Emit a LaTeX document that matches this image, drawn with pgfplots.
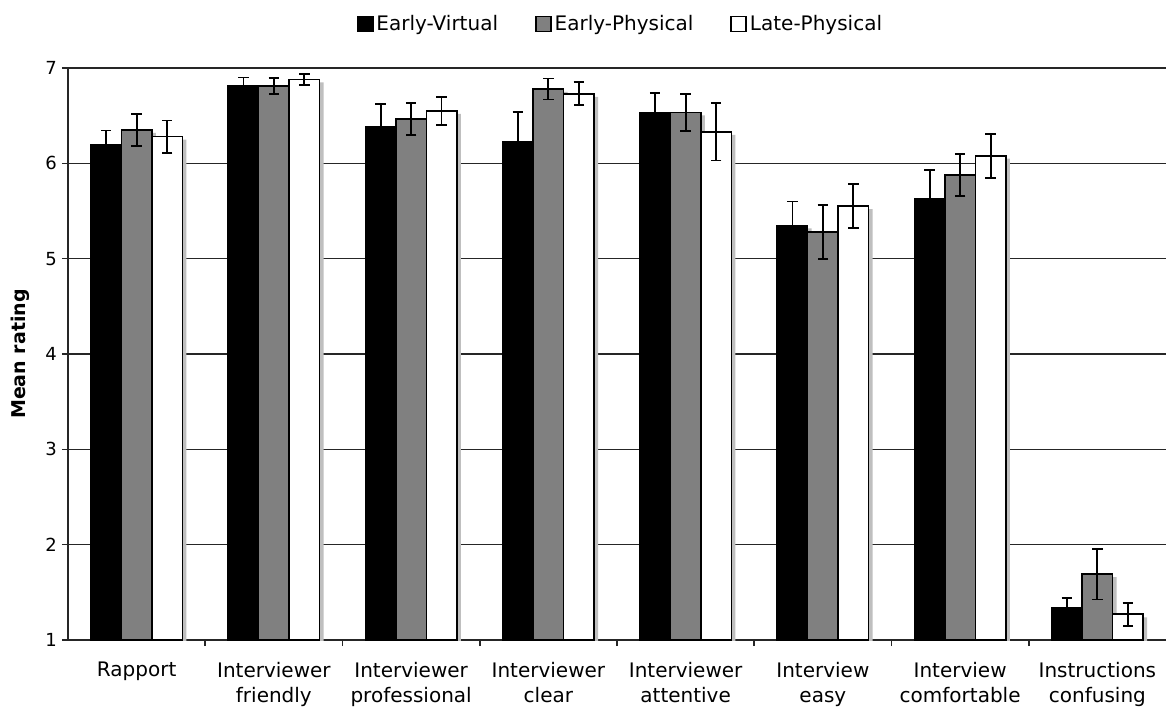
\documentclass[border=0pt]{standalone}
\usepackage{pgfplots}
\pgfplotsset{compat=1.18}
\usepackage{fontspec}
\setmainfont{DejaVu Sans}
\usetikzlibrary{shadows}

\tikzset{barshadow/.style={drop shadow={shadow xshift=2pt, shadow yshift=-1.5pt, fill=black!25, draw=none, opacity=1}}}

\begin{document}
\begin{tikzpicture}
\path[use as bounding box] (-34pt,-34.5pt) rectangle (549pt,320pt);
\begin{axis}[
    at={(0,0)}, anchor=south west,
    scale only axis,
    width=549pt, height=286pt,
    ybar=0pt,
    bar width=0.222,
    xmin=-0.5, xmax=7.5,
    ymin=1, ymax=7,
    ytick={1,...,7},
    axis x line=bottom, axis y line=left,
    axis line style={-, line width=0.8pt, black!85},
    tick align=outside,
    major tick length=3pt,
    tick style={line width=0.8pt, black!85},
    xtick={0.5,1.5,...,6.5},
    xticklabels={},
    extra x ticks={0,...,7},
    extra x tick labels={Rapport, Interviewer\\friendly, Interviewer\\professional, Interviewer\\clear, Interviewer\\attentive, Interview\\easy, Interview\\comfortable, Instructions\\confusing},
    extra x tick style={major tick length=0pt, grid=none},
    xticklabel style={align=center, font=\fontsize{10}{12.5}\selectfont, yshift=-7.5pt},
    yticklabel style={font=\fontsize{9}{11}\selectfont, xshift=1pt},
    /pgf/number format/assume math mode=true,
    ymajorgrids,
    grid style={line width=0.8pt, black!85},
    ylabel={Mean rating},
    ylabel style={font=\bfseries\fontsize{9.5}{11}\selectfont, yshift=1pt},
    legend columns=3,
    legend style={at={(0.5,1)}, anchor=center, yshift=22pt, xshift=2pt, draw=none,
        font=\fontsize{10}{12}\selectfont,
        nodes={inner xsep=1.5pt},
        /tikz/every even column/.append style={column sep=17pt}},
    legend image code/.code={\draw[#1, line width=0.8pt] (0pt,-3.7pt) rectangle (7.5pt,3.7pt);},
    error bars/y dir=both,
    error bars/y explicit,
    error bars/error mark options={rotate=90, mark size=2.6pt, line width=0.9pt, black},
    error bars/error bar style={line width=0.9pt, black},
]
\addlegendimage{fill=black, draw=black}
\addlegendimage{fill=black!50, draw=black}
\addlegendimage{fill=white, draw=black}
\legend{Early-Virtual, Early-Physical, Late-Physical}

% Early-Virtual
\addplot[fill=black, draw=black, line width=0.8pt, barshadow] coordinates {
    (0,6.19) +- (0,0.155)
    (1,6.81) +- (0,0.09)
    (2,6.38) +- (0,0.24)
    (3,6.23) +- (0,0.31)
    (4,6.535) +- (0,0.205)
    (5,5.35) +- (0,0.25)
    (6,5.63) +- (0,0.30)
    (7,1.34) +- (0,0.10)
};
% Early-Physical
\addplot[fill=black!50, draw=black, line width=0.8pt, barshadow] coordinates {
    (0,6.35) +- (0,0.17)
    (1,6.81) +- (0,0.085)
    (2,6.465) +- (0,0.165)
    (3,6.78) +- (0,0.11)
    (4,6.535) +- (0,0.195)
    (5,5.28) +- (0,0.285)
    (6,5.88) +- (0,0.22)
    (7,1.69) +- (0,0.265)
};
% Late-Physical
\addplot[fill=white, draw=black, line width=0.8pt, barshadow] coordinates {
    (0,6.28) +- (0,0.17)
    (1,6.88) +- (0,0.06)
    (2,6.55) +- (0,0.145)
    (3,6.73) +- (0,0.12)
    (4,6.33) +- (0,0.30)
    (5,5.55) +- (0,0.23)
    (6,6.08) +- (0,0.23)
    (7,1.27) +- (0,0.12)
};
\end{axis}
\end{tikzpicture}
\end{document}
